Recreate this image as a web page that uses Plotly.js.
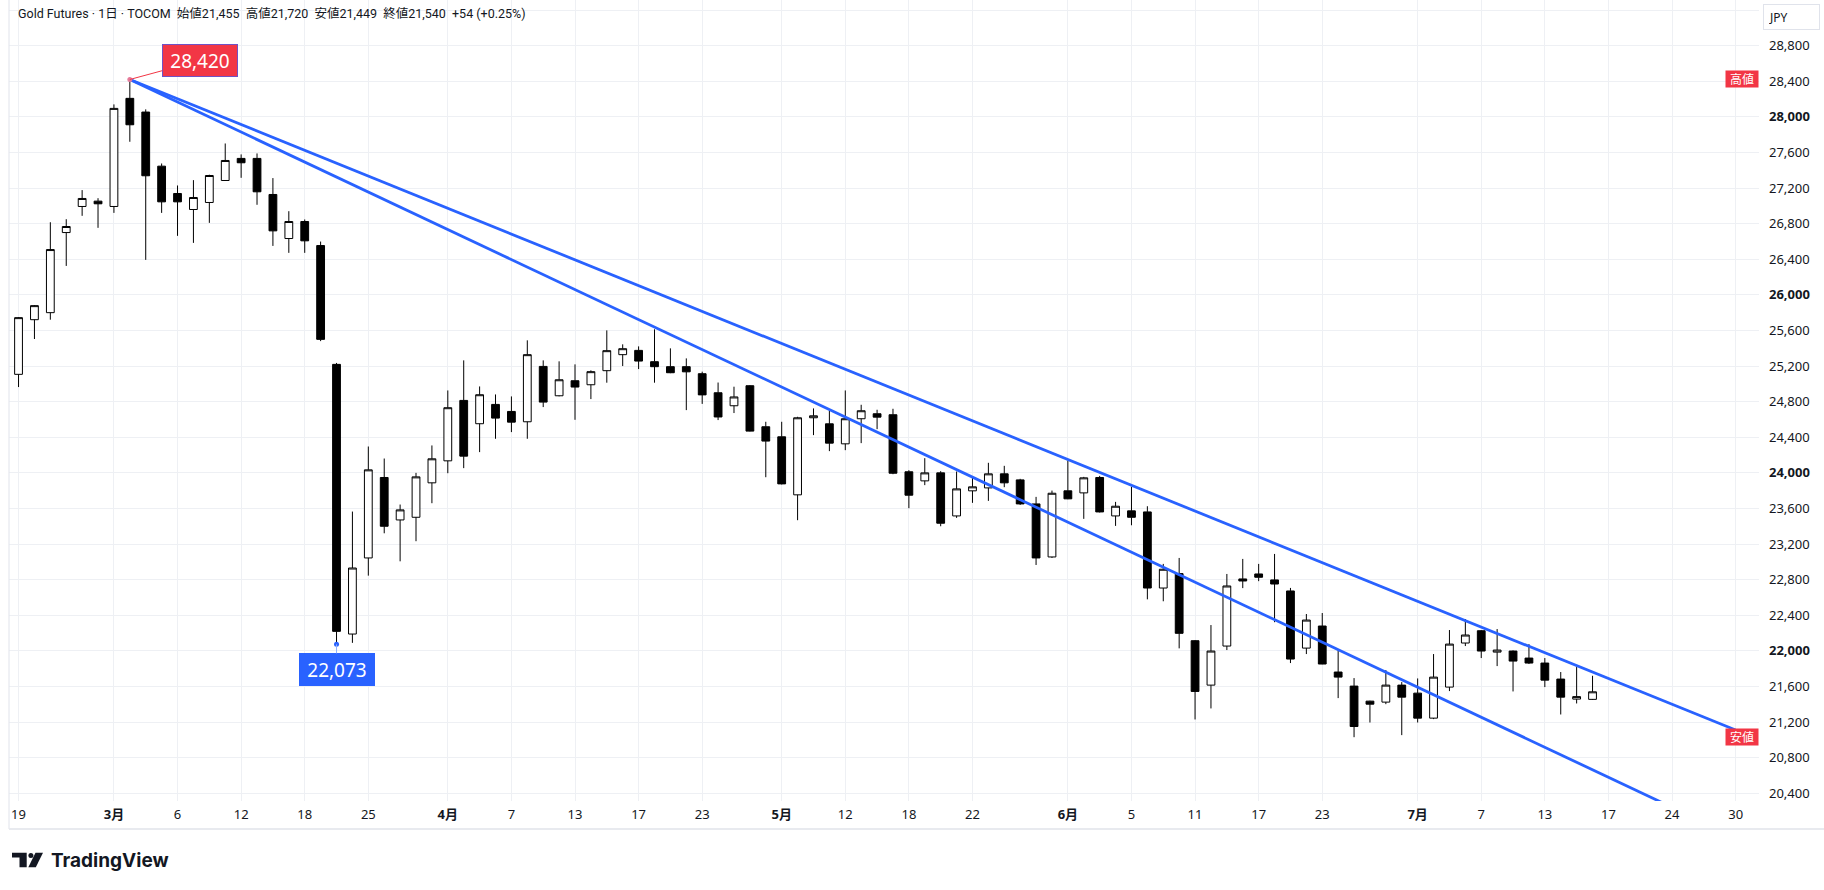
<!DOCTYPE html>
<html>
<head>
<meta charset="utf-8">
<script src="https://cdn.plot.ly/plotly-3.0.1.min.js"></script>
<style>html,body{margin:0;padding:0;background:#fff;}#chart{width:1824px;height:890px;}</style>
</head>
<body>
<div id="chart"></div>
<script>
// ---- data (2026, Japan trading days) ----
const tradingDays = ['02-19','02-20','02-24','02-25','02-26','02-27',
 '03-02','03-03','03-04','03-05','03-06','03-09','03-10','03-11','03-12','03-13','03-16','03-17','03-18','03-19','03-23','03-24','03-25','03-26','03-27','03-30','03-31',
 '04-01','04-02','04-03','04-06','04-07','04-08','04-09','04-10','04-13','04-14','04-15','04-16','04-17','04-20','04-21','04-22','04-23','04-24','04-27','04-28','04-30',
 '05-01','05-07','05-08','05-11','05-12','05-13','05-14','05-15','05-18','05-19','05-20','05-21','05-22','05-25','05-26','05-27','05-28','05-29',
 '06-01','06-02','06-03','06-04','06-05','06-08','06-09','06-10','06-11','06-12','06-15','06-16','06-17','06-18','06-19','06-22','06-23','06-24','06-25','06-26','06-29','06-30',
 '07-01','07-02','07-03','07-06','07-07','07-08','07-09','07-10','07-13','07-14','07-15','07-16','07-17','07-21','07-22','07-23','07-24','07-27','07-28','07-29','07-30'];

const openP  = [25107,25721,25800,26700,26993,27053,26993,28208,28054,27446,27139,26959,27038,27285,27533,27533,27128,26633,26824,26554,
 25219,22189,23044,23948,23471,23501,23888,24135,24814,24552,24769,24690,24574,25196,24866,25035,24990,25148,25328,25376,
 25249,25193,25193,25114,24900,24754,24979,24518,24405,23753,24619,24551,24326,24608,24664,24653,24012,23910,24000,23516,
 23798,23831,23989,23921,23651,23055,23798,23775,23948,23516,23573,23561,22706,22868,22114,21615,22054,22808,22864,22797,
 22673,22031,22279,21762,21604,21435,21424,21615,21525,21244,21593,22088,22226,21986,21998,21919,21863,21683,21458,21455];
const highP  = [25750,25885,26816,26850,27177,27086,28140,28420,28084,27476,27229,27289,27350,27701,27578,27589,27312,26940,26847,26599,
 25235,23565,24296,24161,23644,24000,24308,24926,25264,24971,24881,24859,25489,25264,25253,25219,25152,25601,25444,25421,
 25613,25399,25286,25137,25015,24968,24985,24574,24574,24630,24724,24698,24926,24765,24709,24720,24030,24165,24019,24015,
 23951,24113,24079,23933,23730,23801,24139,23955,23966,23674,23843,23625,22977,23044,22121,22290,22864,23033,22977,23089,
 22707,22414,22425,22009,21694,21440,21784,21649,21690,21964,22234,22358,22234,22245,22005,22076,21919,21762,21818,21720];
const lowP   = [24964,25504,25721,26325,26888,26753,26921,27720,26393,26921,26663,26584,26809,27280,27315,27012,26550,26472,26472,25480,
 22073,22090,22845,23321,23006,23232,23659,23996,24053,24233,24383,24458,24383,24739,24860,24596,24829,25013,25200,25166,
 25013,25120,24705,24775,24593,24672,24465,23951,23870,23468,24424,24244,24255,24334,24491,23985,23603,23862,23400,23494,
 23663,23685,23839,23640,22965,23044,23704,23483,23555,23404,23411,22579,22557,22028,21229,21353,22009,22705,22783,22322,
 21863,21964,21850,21469,21030,21195,21401,21053,21195,21233,21548,22054,21919,21829,21544,21852,21593,21285,21409,21449];
const closeP = [25744,25879,26509,26768,27083,27023,28095,27911,27338,27045,27045,27094,27341,27510,27484,27158,26719,26824,26607,25500,
 22219,22931,24034,23400,23584,23955,24158,24732,24188,24878,24615,24570,25328,24795,25046,24964,25137,25373,25395,25256,
 25193,25125,25135,24876,24628,24853,24469,24357,23876,24619,24641,24334,24608,24698,24626,23996,23749,24000,23434,23820,
 23843,23989,23888,23651,23044,23771,23708,23944,23561,23625,23501,22706,22917,22197,21544,21998,22729,22785,22827,22751,
 21908,22346,21852,21705,21150,21401,21615,21480,21244,21705,22076,22178,21998,22009,21885,21863,21671,21480,21486,21540];

const tickDates  = ['02-19','03-02','03-06','03-12','03-18','03-25','04-01','04-07','04-13','04-17','04-23','05-01','05-12','05-18','05-22','06-01','06-05','06-11','06-17','06-23','07-01','07-07','07-13','07-17','07-24','07-30'];
const tickLabels = ['19','3月','6','12','18','25','4月','7','13','17','23','5月','12','18','22','6月','5','11','17','23','7月','7','13','17','24','30'];
const priceTicks = [20400,20800,21200,21600,22000,22400,22800,23200,23600,24000,24400,24800,25200,25600,26000,26400,26800,27200,27600,28000,28400,28800,29200];

const trendUpperDates = ['03-03','07-30'];
const trendUpperPrices = [28420,21110];
const trendLowerDates = ['03-03','07-30'];
const trendLowerPrices = [28420,19905];
const markedLowDate = '03-23';

// ---- helpers ----
const idxOf = d => tradingDays.indexOf(d);
const xs = openP.map((_, i) => i);
const fmt = v => v.toLocaleString('en-US');
const X = px => (px - 9) / 1750;
const Y = py => (801 - py) / 801;
const FONT = 'Noto Sans, Noto Sans CJK JP, sans-serif';
const HFONT = 'Roboto, Noto Sans CJK JP, sans-serif';
const INK = '#131722';

const n = closeP.length;
const lastO = openP[n-1], lastH = highP[n-1], lastL = lowP[n-1], lastC = closeP[n-1];
const chg = lastC - closeP[n-2];
const pct = (chg / closeP[n-2] * 100).toFixed(2);
const sp = '\u00a0\u00a0';
const header = 'Gold Futures · 1日 · TOCOM' + sp + '始値' + fmt(lastO) + sp + '高値' + fmt(lastH) + sp + '安値' + fmt(lastL) + sp + '終値' + fmt(lastC) + sp + (chg >= 0 ? '+' : '') + chg + ' (' + (chg >= 0 ? '+' : '') + pct + '%)';

const maxHigh = Math.max(...highP);
const maxIdx = highP.indexOf(maxHigh);
const minLow = Math.min(...lowP);
const markIdx = idxOf(markedLowDate);
const markLow = lowP[markIdx];

const traces = [
  {
    type: 'candlestick', x: xs, open: openP, high: highP, low: lowP, close: closeP,
    increasing: {line: {color: '#000', width: 1}, fillcolor: '#fff'},
    decreasing: {line: {color: '#000', width: 1}, fillcolor: '#000'},
    whiskerwidth: 0, showlegend: false, hoverinfo: 'skip'
  },
  {
    type: 'scatter', mode: 'lines', x: trendUpperDates.map(idxOf), y: trendUpperPrices,
    line: {color: '#2962FF', width: 2.8}, showlegend: false, hoverinfo: 'skip'
  },
  {
    type: 'scatter', mode: 'lines', x: trendLowerDates.map(idxOf), y: trendLowerPrices,
    line: {color: '#2962FF', width: 2.8}, showlegend: false, hoverinfo: 'skip'
  },
  {
    type: 'scatter', mode: 'markers', x: [maxIdx, markIdx], y: [maxHigh, markLow],
    marker: {size: 5, color: ['#e57a9a', '#2962FF']}, showlegend: false, hoverinfo: 'skip'
  }
];

const layout = {
  width: 1824, height: 890,
  margin: {l: 9, r: 65, t: 0, b: 89, pad: 0},
  paper_bgcolor: '#fff', plot_bgcolor: '#fff',
  font: {family: FONT, color: INK, size: 13},
  showlegend: false,
  boxgap: 0.3,
  xaxis: {
    range: [-0.6, 109.47], tickmode: 'array',
    tickvals: tickDates.map(idxOf),
    ticktext: tickLabels.map(t => t.includes('月') ? '<b>' + t + '</b>' : t),
    showgrid: true, gridcolor: '#eef0f4', gridwidth: 1, zeroline: false, showline: false,
    ticks: '', ticklabelstandoff: 4, tickfont: {size: 13, color: INK, family: FONT},
    rangeslider: {visible: false}, fixedrange: true
  },
  yaxis: {
    side: 'right', range: [20313, 29313], tickmode: 'array',
    tickvals: priceTicks,
    ticktext: priceTicks.map(v => v === 29200 ? '' : (v % 2000 === 0 ? '<b>' + fmt(v) + '</b>' : fmt(v))),
    showgrid: true, gridcolor: '#eef0f4', gridwidth: 1, zeroline: false, showline: false,
    ticks: '', ticklabelstandoff: 9, tickfont: {size: 13, color: INK, family: FONT}, fixedrange: true
  },
  shapes: [
    {type: 'line', xref: 'paper', yref: 'paper', x0: 0, x1: 0, y0: Y(829), y1: 1, line: {color: '#e0e3eb', width: 1}},
    {type: 'line', xref: 'paper', yref: 'paper', x0: 0, x1: X(1824), y0: Y(829), y1: Y(829), line: {color: '#e8eaef', width: 2}},
    // TradingView logo
    {type: 'path', xref: 'paper', yref: 'paper', xsizemode: 'pixel', ysizemode: 'pixel', xanchor: 0, yanchor: 0,
     path: 'M 3,-51.7 L 17.7,-51.7 L 17.7,-66.3 L 10.5,-66.3 L 10.5,-56.6 L 3,-56.6 Z', fillcolor: '#131722', line: {width: 0}},
    {type: 'circle', xref: 'paper', yref: 'paper', xsizemode: 'pixel', ysizemode: 'pixel', xanchor: 0, yanchor: 0,
     x0: 19.4, x1: 24.4, y0: -51.9, y1: -56.9, fillcolor: '#131722', line: {width: 0}},
    {type: 'path', xref: 'paper', yref: 'paper', xsizemode: 'pixel', ysizemode: 'pixel', xanchor: 0, yanchor: 0,
     path: 'M 26.5,-51.7 L 34,-51.7 L 26.8,-66.3 L 19.3,-66.3 Z', fillcolor: '#131722', line: {width: 0}}
  ],
  annotations: [
    {xref: 'paper', yref: 'paper', x: X(16), y: Y(13), xanchor: 'left', yanchor: 'middle', showarrow: false,
     text: header, font: {size: 12.5, color: INK, family: HFONT}},
    {xref: 'paper', yref: 'paper', x: X(49), y: Y(860), xanchor: 'left', yanchor: 'middle', showarrow: false,
     text: '<b>TradingView</b>', font: {size: 19, color: '#131722', family: 'Inter, Noto Sans, sans-serif'}},
    {xref: 'paper', yref: 'paper', x: X(1763), y: Y(17), xanchor: 'left', yanchor: 'middle', showarrow: false,
     text: 'JPY', align: 'left', width: 45, height: 14, borderpad: 5, bordercolor: '#e0e3eb', borderwidth: 1, bgcolor: '#fff',
     font: {size: 12, color: INK, family: FONT}},
    {x: maxIdx, y: maxHigh, xref: 'x', yref: 'y', text: fmt(maxHigh), showarrow: true, arrowhead: 0, arrowwidth: 1,
     arrowcolor: '#F23645', ax: 70, ay: -19, standoff: 0, bgcolor: '#F23645', bordercolor: '#7052c4', borderwidth: 1,
     borderpad: 3, width: 68, height: 25, font: {size: 19, color: '#fff', family: FONT}},
    {x: markIdx, y: markLow, xref: 'x', yref: 'y', text: fmt(markLow), showarrow: true, arrowhead: 0, arrowwidth: 1,
     arrowcolor: '#8fb0ff', ax: 0, ay: 25, standoff: 0, bgcolor: '#2962FF', bordercolor: '#2962FF', borderwidth: 1,
     borderpad: 3, width: 68, height: 25, font: {size: 19, color: '#fff', family: FONT}},
    {xref: 'paper', yref: 'y', x: 1, y: maxHigh, xanchor: 'right', yanchor: 'middle', showarrow: false,
     text: '高値', bgcolor: '#F23645', width: 30, height: 14, borderpad: 1, font: {size: 12, color: '#fff', family: FONT}},
    {xref: 'paper', yref: 'y', x: 1, y: minLow, xanchor: 'right', yanchor: 'middle', showarrow: false,
     text: '安値', bgcolor: '#F23645', width: 30, height: 14, borderpad: 1, font: {size: 12, color: '#fff', family: FONT}}
  ]
};

Plotly.newPlot('chart', traces, layout, {displayModeBar: false, staticPlot: true});
</script>
</body>
</html>
